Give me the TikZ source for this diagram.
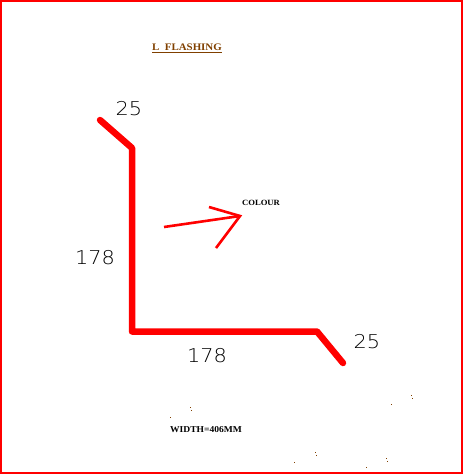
\documentclass[tikz,border=0pt]{standalone}
\usepackage{fontspec}
\newfontfamily\dimfont{DejaVu Sans ExtraLight}
\newfontfamily\notefont{Liberation Serif}
\definecolor{rustbrown}{RGB}{128,64,0}
\tikzset{
  dimtext/.style={font=\dimfont\fontsize{19}{19}\selectfont, xscale=1.1, text=black},
  notetext/.style={font=\notefont\bfseries\fontsize{9}{9}\selectfont, inner sep=1pt}
}
\begin{document}
\begin{tikzpicture}[x=1pt,y=-1pt]
  \useasboundingbox (0,0) rectangle (463,474);
  % frame
  \draw[red, line width=4.5pt] (0,0) rectangle (463,474);

  % flashing profile
  \coordinate (T) at (100,120);
  \coordinate (U) at (132,148);
  \coordinate (V) at (132,331.5);
  \coordinate (W) at (317,331.5);
  \coordinate (Z) at (343,363);
  \draw[red, line width=6.5pt, line join=round, line cap=round] (T) -- (U) -- (V) -- (W) -- (Z);

  % colour arrow
  \coordinate (Q) at (164,227);
  \coordinate (R) at (240,216);
  \coordinate (S) at (209,207);
  \coordinate (Y) at (216,248);
  \draw[red, line width=2.6pt] (Q) -- (R);
  \draw[red, line width=2.6pt] (S) -- (R) -- (Y);

  % labels
  \node[notetext, text=rustbrown, font=\notefont\bfseries\fontsize{10}{10}\selectfont, xscale=1.09] (title) at (187,48) {\underline{L\ \ FLASHING}};
  \node[notetext, font=\notefont\bfseries\fontsize{8}{8}\selectfont, xscale=1.08] (colour) at (261,203) {COLOUR};
  \node[notetext, xscale=1.06] (width) at (206,430) {WIDTH=406MM};
  \node[dimtext] (topdim) at (129,109) {25};
  \node[dimtext] (leftdim) at (95,258) {178};
  \node[dimtext] (botdim) at (207,356) {178};
  \node[dimtext] (enddim) at (367,342) {25};

  % stray specks
  \foreach \x/\y in {190/407, 191/410, 170/417, 391/404, 411/395, 412/398,
                     315/452, 316/455, 294/462, 386/458, 387/461, 366/467}
    \fill[rustbrown] (\x,\y) rectangle ++(1,1);
\end{tikzpicture}
\end{document}
